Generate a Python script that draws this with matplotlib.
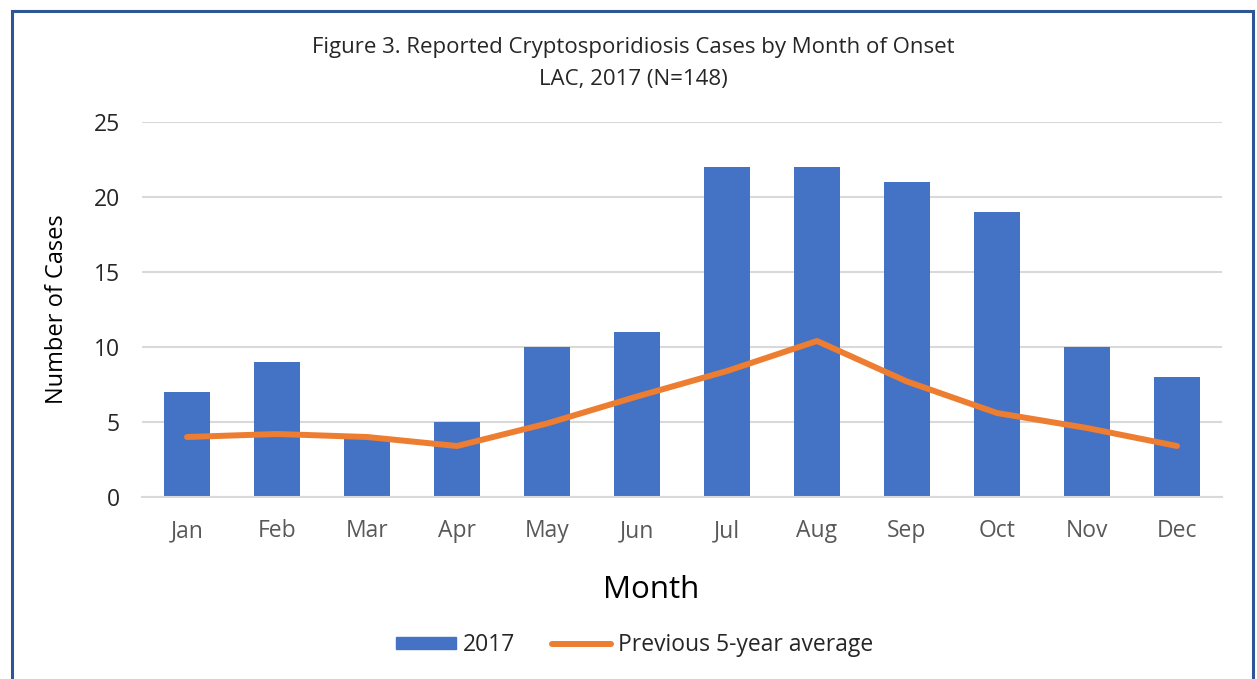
import matplotlib
matplotlib.use("Agg")
import matplotlib.pyplot as plt
from matplotlib.lines import Line2D
from matplotlib.patches import Rectangle

months = ["Jan", "Feb", "Mar", "Apr", "May", "Jun", "Jul", "Aug", "Sep", "Oct", "Nov", "Dec"]
cases_2017 = [7, 9, 4, 5, 10, 11, 22, 22, 21, 19, 10, 8]
prev_5yr_avg = [4.0, 4.2, 4.0, 3.4, 4.9, 6.7, 8.4, 10.4, 7.7, 5.6, 4.6, 3.4]
y_ticks = [0, 5, 10, 15, 20, 25]

plt.rcParams['font.family'] = ['Open Sans', 'DejaVu Sans']

W, H = 1257, 679
fig = plt.figure(figsize=(W / 100, H / 100), dpi=100)
ax = fig.add_axes([142 / W, 1 - 497 / H, (1222 - 142) / W, (497 - 122) / H])

x = list(range(len(months)))
ax.bar(x, cases_2017, width=0.51, color="#4472C4", zorder=2, label="2017")
ax.plot(x, prev_5yr_avg, color="#ED7D31", linewidth=4.3, solid_capstyle="round",
        solid_joinstyle="round", zorder=3, label="Previous 5-year average")

ax.set_xlim(-0.5, len(months) - 0.5)
ax.set_ylim(0, 25)
ax.set_yticks(y_ticks)
ax.set_xticks(x)
ax.set_xticklabels(months)
ax.yaxis.grid(True, color="#D9D9D9", linewidth=1.5, zorder=0)
ax.set_axisbelow(True)
for s in ["top", "right", "left"]:
    ax.spines[s].set_visible(False)
ax.spines["bottom"].set_color("#D9D9D9")
ax.spines["bottom"].set_linewidth(1.5)
ax.tick_params(axis="both", length=0, labelsize=16.5, colors="#595959")
ax.tick_params(axis="x", pad=16)
ax.tick_params(axis="y", pad=16)
for lab in ax.get_yticklabels():
    lab.set_color("#262626")

ax.set_ylabel("Number of Cases", fontsize=17, color="#000000")
ax.yaxis.set_label_coords((69 - 142) / (1222 - 142), 0.5)
fig.text(651 / W, 1 - 590 / H, "Month", fontsize=22.5, ha="center", va="center", color="#000000")

fig.text(633 / W, 1 - 47 / H, "Figure 3. Reported Cryptosporidiosis Cases by Month of Onset",
         fontsize=16, ha="center", va="center", color="#262626")
fig.text(633 / W, 1 - 79 / H, "LAC, 2017 (N=148)",
         fontsize=16, ha="center", va="center", color="#262626")

handles = [Rectangle((0, 0), 1, 1, color="#4472C4"),
           Line2D([0], [0], color="#ED7D31", linewidth=4.3, solid_capstyle="round")]
fig.legend(handles, ["2017", "Previous 5-year average"], loc="center",
           bbox_to_anchor=(635 / W, 1 - 645 / H), ncol=2, frameon=False,
           fontsize=16.5, handlelength=2.6, handleheight=0.45, columnspacing=1.6,
           handletextpad=0.3, labelcolor="#262626")

border = Rectangle((11.5 / W, -0.05), (1253 - 11.5) / W, (H - 10.5) / H + 0.05,
                   transform=fig.transFigure, fill=False, edgecolor="#2F5597",
                   linewidth=2.2, clip_on=False)
fig.patches.append(border)

fig.savefig("out.png", dpi=100)
